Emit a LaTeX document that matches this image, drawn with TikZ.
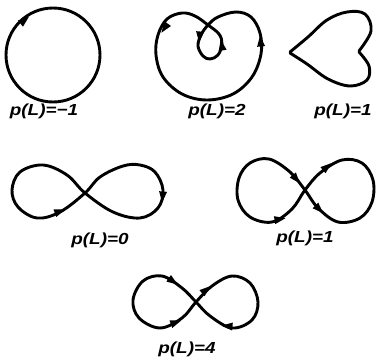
\documentclass[tikz,border=0pt]{standalone}
\usepackage{fontspec}
\setsansfont{Liberation Sans}
\tikzset{
  curve/.style={line width=2.9pt, line cap=round, line join=round},
  lbl/.style={font=\sffamily\bfseries\itshape\fontsize{16}{16}\selectfont, inner sep=0pt},
  ah/.pic={\fill (4.5,0) -- (-6.5,4) -- (-6.5,-4) -- cycle;}
}
\newcommand\lbltext[1]{\scalebox{1.18}[1]{#1}}
\begin{document}
\begin{tikzpicture}[x=1pt,y=-1pt]
\useasboundingbox (0,0) rectangle (376,359);
% circle p(L)=-1
\coordinate (c1) at (53,55);
\draw[curve] (c1) circle[radius=47];
\pic[rotate=39] at (25.5,19.5) {ah};
\node[lbl] (l1) at (44,111) {\lbltext{p(L)=−1}};
% limacon p(L)=2
\draw[curve] plot[smooth cycle, tension=0.6] coordinates {
 (236,12) (218,17) (208,25) (201,35) (198,46) (203,56) (210,59) (218,55) (222,44) (219,34) (208,25) (195,16) (182,13) (167,19) (158,35) (156,55) (163,77) (182,94) (207,100) (233,94) (252,77) (261,54) (260,33) (251,17)};
\pic[rotate=235] at (164,29) {ah};
\pic[rotate=265] at (199.5,38) {ah};
\pic[rotate=100] at (221.5,44) {ah};
\pic[rotate=95] at (260.5,40) {ah};
\node[lbl] (l2) at (217,111) {\lbltext{p(L)=2}};
% heart p(L)=1
\draw[curve] plot[smooth, tension=0.6] coordinates {(290,52) (308,37) (327,20) (347,12) (365,14) (371,31) (359,51)}
  plot[smooth, tension=0.6] coordinates {(359,52) (369,66) (367,80) (350,86) (328,79) (307,64) (290,53)};
\node[lbl] (l3) at (343,111) {\lbltext{p(L)=1}};
% figure eight p(L)=0
\draw[curve] plot[smooth cycle, tension=0.6] coordinates {
 (100,177) (123,166) (140,165) (155,172) (163,190) (158,208) (140,218) (113,212) (85,193) (67,175) (43,165) (20,172) (12,190) (18,207) (37,218) (60,212) (85,193)};
\pic[rotate=20] at (61,211) {ah};
\pic[rotate=265] at (162.5,198) {ah};
\node[lbl] (l4) at (100,240) {\lbltext{p(L)=0}};
% figure eight p(L)=1
\draw[curve] plot[smooth cycle, tension=0.6] coordinates {
 (320,173) (342,160) (362,163) (373,180) (372,202) (360,218) (338,222) (318,208) (305,190) (290,172) (269,159) (250,163) (239,178) (238,200) (250,217) (272,222) (292,209) (305,190)};
\pic[rotate=-50] at (297,180) {ah};
\pic[rotate=40] at (328,166) {ah};
\pic[rotate=10] at (281,219) {ah};
\pic[rotate=-45] at (320,210) {ah};
\node[lbl] (l5) at (305,238) {\lbltext{p(L)=1}};
% figure eight p(L)=4
\draw[curve] plot[smooth cycle, tension=0.6] coordinates {
 (212,286) (232,276) (250,283) (258,302) (252,320) (232,328) (210,316) (196,302) (182,288) (162,276) (143,281) (133,300) (139,318) (160,328) (182,318) (196,302)};
\pic[rotate=-35] at (174,282) {ah};
\pic[rotate=40] at (207,289) {ah};
\pic[rotate=20] at (177,322) {ah};
\pic[rotate=175] at (226,326) {ah};
\node[lbl] (l6) at (187,349) {\lbltext{p(L)=4}};
\end{tikzpicture}
\end{document}
